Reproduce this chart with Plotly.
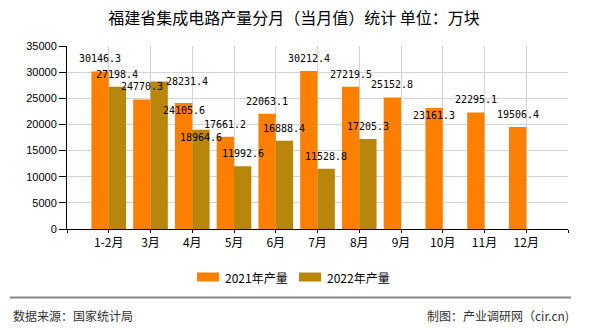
import plotly.graph_objects as go

# ---- data ----
categories = ["1-2月", "3月", "4月", "5月", "6月", "7月", "8月", "9月", "10月", "11月", "12月"]
series_2021 = [30146.3, 24770.3, 24105.6, 17661.2, 22063.1, 30212.4, 27219.5, 25152.8, 23161.3, 22295.1, 19506.4]
series_2022 = [27198.4, 28231.4, 18964.6, 11992.6, 16888.4, 11528.8, 17205.3, None, None, None, None]
series_names = ["2021年产量", "2022年产量"]
y_ticks = [0, 5000, 10000, 15000, 20000, 25000, 30000, 35000]

title_text = "福建省集成电路产量分月（当月值）统计 单位：万块"
source_text = "数据来源：国家统计局"
credit_text = "制图：产业调研网（cir.cn)"

# ---- style ----
colors = ["#FF8000", "#B8860B"]
W, H = 590, 330
ML, MR, MT, MB = 67, 22, 46, 101
PW, PH = W - ML - MR, H - MT - MB
grid_color = "#d4d4d4"
label_font = dict(family="DejaVu Sans Mono, Liberation Mono, monospace", size=10, color="#000")
cjk = "Noto Sans CJK SC, sans-serif"
bar_half_px = 8.6
label_lift = 12.5
# label displacement (pixels) where the original layout moved labels to avoid overlap
label_adjust = {(1, 1): (27.5, -12.5), (0, 2): (0, -20.5), (1, 2): (0, -20.5), (0, 8): (0, -20.5)}


def px_x(p):
    return (p - ML) / PW


def px_y(p):
    return (MT + PH - p) / PH


idx = list(range(len(categories)))

fig = go.Figure()
for s, (name, vals) in enumerate(zip(series_names, [series_2021, series_2022])):
    fig.add_trace(go.Bar(x=idx, y=vals, name=name, marker=dict(color=colors[s], line=dict(width=0)),
                         showlegend=False))

annotations = []
for s, vals in enumerate([series_2021, series_2022]):
    sign = -1 if s == 0 else 1
    for i, v in enumerate(vals):
        if v is None:
            continue
        dx, dy = label_adjust.get((s, i), (0, 0))
        annotations.append(dict(x=i, y=v, xref="x", yref="y", text=f"{v:.1f}", showarrow=False,
                                xanchor="center", yanchor="middle",
                                xshift=sign * bar_half_px + dx, yshift=label_lift + dy,
                                font=label_font))

# custom legend
shapes = []
legend_items = [(197, 223), (299, 325)]
for s, (sx, tx) in enumerate(legend_items):
    shapes.append(dict(type="rect", xref="paper", yref="paper",
                       x0=px_x(sx), x1=px_x(sx + 22), y0=px_y(281.5), y1=px_y(272.5),
                       fillcolor=colors[s], line=dict(width=0)))
    annotations.append(dict(x=px_x(tx), y=px_y(277), xref="paper", yref="paper", text=series_names[s],
                            showarrow=False, xanchor="left", yanchor="middle",
                            font=dict(family=cjk, size=12, color="#000")))

# footer
shapes.append(dict(type="line", xref="paper", yref="paper", x0=px_x(10), x1=px_x(571),
                   y0=px_y(297.5), y1=px_y(297.5), line=dict(color="#888888", width=2)))
annotations.append(dict(x=px_x(11), y=px_y(315), xref="paper", yref="paper", text=source_text,
                        showarrow=False, xanchor="left", yanchor="middle",
                        font=dict(family=cjk, size=12, color="#333")))
annotations.append(dict(x=px_x(571), y=px_y(315), xref="paper", yref="paper", text=credit_text,
                        showarrow=False, xanchor="right", yanchor="middle",
                        font=dict(family=cjk, size=12, color="#333")))

fig.update_layout(
    width=W, height=H,
    margin=dict(l=ML, r=MR, t=MT, b=MB, pad=0),
    paper_bgcolor="white", plot_bgcolor="white",
    barmode="group", bargap=0.17, bargroupgap=0,
    title=dict(text=title_text, x=294 / W, xanchor="center", y=1 - 18.5 / H, yanchor="middle",
               yref="container", font=dict(family=cjk, size=16, color="#000")),
    xaxis=dict(range=[-1, len(categories)], tickmode="array",
               tickvals=[-1] + idx + [len(categories)],
               ticktext=[""] + categories + [""],
               showgrid=True, gridcolor=grid_color, gridwidth=1,
               showline=True, linecolor="#000", linewidth=1,
               ticks="outside", ticklen=3, tickcolor="#000",
               tickfont=dict(family=cjk, size=12, color="#000"), zeroline=False),
    yaxis=dict(range=[0, 35000], tickmode="array", tickvals=y_ticks,
               ticktext=[str(t) for t in y_ticks],
               showgrid=True, gridcolor=grid_color, gridwidth=1,
               showline=True, linecolor="#000", linewidth=1,
               ticks="outside", ticklen=7, tickcolor="#000",
               tickfont=dict(family="Liberation Sans, Arial, sans-serif", size=11, color="#000"),
               zeroline=False),
    annotations=annotations,
    shapes=shapes,
    showlegend=False,
)

fig.write_html("out.html")
